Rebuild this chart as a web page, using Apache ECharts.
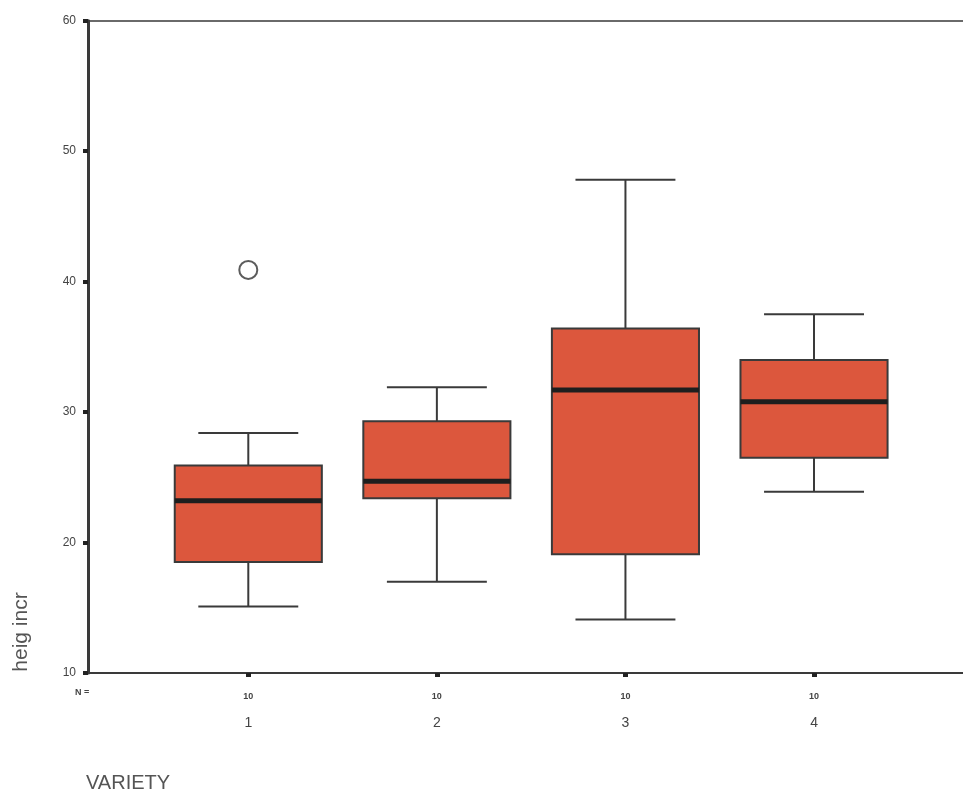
<!DOCTYPE html>
<html>
<head>
<meta charset="utf-8">
<script src="https://cdn.jsdelivr.net/npm/echarts@6/dist/echarts.min.js"></script>
<style>
  html, body { margin: 0; padding: 0; background: #ffffff; }
  #chart { width: 963px; height: 795px; }
</style>
</head>
<body>
<div id="chart"></div>
<script>
// Groups on the x axis
const varieties = [1, 2, 3, 4];
// Number of cases per group (printed under the axis)
const nCounts = [10, 10, 10, 10];
// Five-number summaries per group
const whiskerLow  = [15.1, 17.0, 14.1, 23.9];
const quart1      = [18.5, 23.4, 19.1, 26.5];
const medians     = [23.2, 24.7, 31.7, 30.8];
const quart3      = [25.9, 29.3, 36.4, 34.0];
const whiskerHigh = [28.4, 31.9, 47.8, 37.5];
// Outliers: [variety, value]
const outliers = [[1, 40.9]];
// Y axis range and step
const yMin = 10, yMax = 60, yStep = 10;

const boxData = varieties.map((v, i) => [v, whiskerLow[i], quart1[i], medians[i], quart3[i], whiskerHigh[i]]);

const chart = echarts.init(document.getElementById('chart'), null, { renderer: 'canvas' });

const boxFill = '#dc573d';
const lineCol = '#3a3a3a';

function renderBox(params, api) {
  const x = api.value(0);
  const lo = api.coord([x, api.value(1)]);
  const q1 = api.coord([x, api.value(2)]);
  const md = api.coord([x, api.value(3)]);
  const q3 = api.coord([x, api.value(4)]);
  const hi = api.coord([x, api.value(5)]);
  const unit = api.size([1, 0])[0];
  const bw = unit * 0.78;
  const cw = unit * 0.53;
  const cx = lo[0];
  return {
    type: 'group',
    children: [
      { type: 'line', shape: { x1: cx, y1: hi[1], x2: cx, y2: q3[1] }, style: { stroke: lineCol, lineWidth: 2 } },
      { type: 'line', shape: { x1: cx, y1: q1[1], x2: cx, y2: lo[1] }, style: { stroke: lineCol, lineWidth: 2 } },
      { type: 'line', shape: { x1: cx - cw / 2, y1: hi[1], x2: cx + cw / 2, y2: hi[1] }, style: { stroke: lineCol, lineWidth: 2 } },
      { type: 'line', shape: { x1: cx - cw / 2, y1: lo[1], x2: cx + cw / 2, y2: lo[1] }, style: { stroke: lineCol, lineWidth: 2 } },
      { type: 'rect', shape: { x: cx - bw / 2, y: q3[1], width: bw, height: q1[1] - q3[1] },
        style: { fill: boxFill, stroke: lineCol, lineWidth: 2 } },
      { type: 'line', shape: { x1: cx - bw / 2, y1: md[1], x2: cx + bw / 2, y2: md[1] }, style: { stroke: '#1e1e1e', lineWidth: 5 } }
    ]
  };
}

const axisFont = 'Liberation Sans, Arial, sans-serif';

chart.setOption({
  animation: false,
  backgroundColor: '#ffffff',
  grid: { left: 88, right: 0, top: 20.7, bottom: 122, containLabel: false },
  xAxis: [
    {
      type: 'value', min: 0.15, max: 4.79,
      position: 'bottom',
      splitLine: { show: false },
      axisLine: { show: true, onZero: false, lineStyle: { color: '#3a3a3a', width: 2 } },
      axisTick: { show: true, customValues: varieties, length: 4, inside: false, lineStyle: { color: '#222', width: 5 } },
      axisLabel: {
        customValues: varieties,
        margin: 10,
        formatter: function (val) {
          const i = varieties.indexOf(val);
          return '{n|' + nCounts[i] + '}\n{v|' + val + '}';
        },
        rich: {
          n: { fontSize: 9, fontWeight: 'bold', color: '#444', fontFamily: axisFont, lineHeight: 28 },
          v: { fontSize: 14, color: '#444', fontFamily: axisFont, lineHeight: 24 }
        }
      }
    },
    {
      type: 'value', min: 0.15, max: 4.79,
      position: 'top',
      splitLine: { show: false },
      axisLine: { show: true, onZero: false, lineStyle: { color: '#3a3a3a', width: 1.5 } },
      axisTick: { show: false },
      axisLabel: { show: false }
    }
  ],
  yAxis: {
    type: 'value', min: yMin, max: yMax, interval: yStep,
    splitLine: { show: false },
    axisLine: { show: true, onZero: false, lineStyle: { color: '#3a3a3a', width: 3 } },
    axisTick: { show: true, length: 5, lineStyle: { color: '#222', width: 4 } },
    axisLabel: { fontSize: 12, color: '#444', fontFamily: axisFont, margin: 12 }
  },
  graphic: [
    { type: 'text', left: 75, top: 688, style: { text: 'N =', fontSize: 9, fontWeight: 'bold', fill: '#444', fontFamily: axisFont } },
    { type: 'text', left: 86, top: 773, style: { text: 'VARIETY', fontSize: 20, fill: '#555', fontFamily: axisFont } },
    { type: 'text', x: 21, y: 632, rotation: Math.PI / 2,
      style: { text: 'heig incr', fontSize: 21, fill: '#555', fontFamily: axisFont, align: 'center', verticalAlign: 'middle' } }
  ],
  series: [
    {
      type: 'custom',
      renderItem: renderBox,
      encode: { x: 0, y: [1, 2, 3, 4, 5] },
      data: boxData
    },
    {
      type: 'scatter',
      data: outliers,
      symbol: 'circle',
      symbolSize: 18,
      itemStyle: { color: '#ffffff', borderColor: '#333', borderWidth: 2 }
    }
  ]
});
</script>
</body>
</html>
